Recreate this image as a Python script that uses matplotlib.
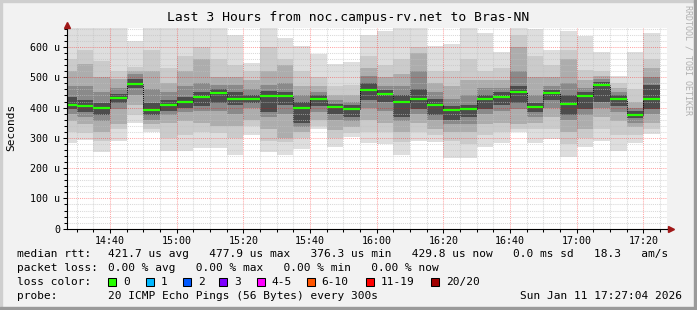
import numpy as np
import pandas as pd
import matplotlib
matplotlib.use("Agg")
import matplotlib.pyplot as plt
import matplotlib.dates as mdates
from matplotlib.patches import Rectangle
from matplotlib.lines import Line2D

# ---- data (values in microseconds) ----
bar_start = pd.date_range("2026-01-11 14:25", periods=36, freq="5min")

median = [410, 406, 397, 433, 478, 391, 410, 420, 434, 447, 427, 427, 437, 437, 397, 427, 401, 396,
          457, 446, 420, 429, 410, 392, 394, 427, 434, 450, 401, 447, 413, 437, 476, 427, 376, 430]

ping_max = [680, 680, 680, 680, 621, 680, 680, 680, 680, 680, 641, 546, 680, 630, 603, 577, 545, 551,
            641, 652, 680, 680, 605, 611, 680, 647, 584, 680, 658, 589, 654, 636, 584, 505, 582, 645]
ping_min = [284, 294, 253, 291, 349, 319, 256, 256, 267, 267, 242, 311, 253, 242, 264, 330, 270, 303,
            284, 280, 244, 291, 286, 234, 234, 270, 283, 319, 283, 297, 236, 270, 291, 258, 283, 314]

# smoke bands, outer -> inner
hi_q1 = [560, 590, 555, 520, 535, 590, 530, 570, 600, 560, 540, 520, 600, 560, 520, 500, 470, 475,
         570, 540, 560, 600, 520, 520, 560, 520, 530, 640, 570, 540, 590, 525, 520, 480, 460, 560]
hi_q2 = [520, 545, 500, 495, 522, 520, 480, 520, 560, 500, 500, 490, 520, 540, 470, 470, 440, 440,
         530, 500, 510, 580, 480, 470, 490, 490, 490, 600, 500, 500, 560, 490, 505, 465, 420, 530]
hi_q3 = [470, 470, 450, 465, 510, 460, 450, 470, 480, 475, 475, 460, 475, 480, 440, 450, 425, 420,
         505, 470, 470, 520, 450, 430, 440, 465, 465, 520, 440, 470, 480, 465, 495, 450, 400, 500]
hi_q4 = [435, 425, 415, 445, 495, 415, 425, 435, 450, 460, 450, 440, 455, 450, 420, 440, 412, 410,
         480, 458, 440, 460, 430, 405, 410, 440, 450, 470, 415, 458, 440, 450, 485, 440, 390, 475]
lo_q4 = [395, 385, 375, 415, 465, 375, 390, 400, 405, 415, 410, 415, 385, 410, 350, 405, 380, 370,
         425, 420, 370, 395, 375, 360, 370, 395, 410, 415, 385, 425, 375, 395, 420, 405, 365, 395]
lo_q3 = [380, 370, 355, 395, 440, 360, 375, 385, 390, 390, 380, 400, 370, 380, 335, 385, 360, 355,
         400, 390, 355, 380, 360, 345, 345, 380, 390, 395, 370, 400, 360, 375, 400, 385, 350, 380]
lo_q2 = [355, 345, 320, 345, 410, 345, 350, 355, 350, 340, 340, 360, 330, 300, 320, 360, 325, 335,
         360, 350, 320, 350, 330, 320, 320, 345, 350, 345, 350, 370, 320, 330, 370, 355, 335, 350]
lo_q1 = [320, 315, 290, 330, 375, 330, 300, 310, 320, 315, 300, 340, 290, 285, 300, 340, 300, 315,
         320, 320, 285, 320, 310, 290, 280, 310, 320, 330, 330, 330, 280, 300, 330, 310, 310, 330]

ytick_vals = [0, 100, 200, 300, 400, 500, 600]
ytick_labels = ["0", "100 u", "200 u", "300 u", "400 u", "500 u", "600 u"]

loss_labels = ["0", "1", "2", "3", "4-5", "6-10", "11-19", "20/20"]
loss_colors = ["#26ff00", "#00b8ff", "#0059ff", "#7e00ff", "#ff00ff", "#ff5500", "#ff0000", "#a10000"]

# ---- layout helpers (pixel coords, origin top-left) ----
W, H = 697, 310
MONO = "DejaVu Sans Mono"


def fx(px):
    return px / W


def fy(py):
    return 1 - py / H


fig = plt.figure(figsize=(W / 100, H / 100), dpi=100)
fig.patch.set_facecolor("#f2f2f2")

ax = fig.add_axes([fx(67), fy(228.7), 600 / W, (228.7 - 27.5) / H])
ax.set_facecolor("white")

x = mdates.date2num(bar_start.to_pydatetime())
width = 5 / 1440

# smoke layers, outer first so inner ones draw on top
layers = [
    (ping_min, ping_max, "#dedede"),
    (lo_q1, hi_q1, "#cbcbcb"),
    (lo_q2, hi_q2, "#adadad"),
    (lo_q3, hi_q3, "#8a8a8a"),
    (lo_q4, hi_q4, "#4c4c4c"),
]
for lo, hi, col in layers:
    lo = np.array(lo)
    hi = np.array(hi)
    ax.bar(x, hi - lo, bottom=lo, width=width, align="edge", color=col, linewidth=0, zorder=1)

# median: dotted black risers between bars + green segments
med = np.array(median)
ax.vlines(x[1:], np.minimum(med[:-1], med[1:]), np.maximum(med[:-1], med[1:]),
          color="black", lw=0.7, ls=(0, (1, 1)), zorder=3)
ax.hlines(med, x, x + width, color=loss_colors[0], lw=1.6, zorder=4)

# axes ranges
t0 = mdates.date2num(pd.Timestamp("2026-01-11 14:27:04"))
t1 = mdates.date2num(pd.Timestamp("2026-01-11 17:27:04"))
ax.set_xlim(t0, t1)
ax.set_ylim(0, 664.5)

ax.xaxis.set_major_locator(mdates.MinuteLocator(byminute=[0, 20, 40]))
ax.xaxis.set_minor_locator(mdates.MinuteLocator(byminute=range(0, 60, 5)))
ax.xaxis.set_major_formatter(mdates.DateFormatter("%H:%M"))
ax.set_yticks(ytick_vals)
ax.set_yticklabels(ytick_labels)
ax.set_yticks(np.arange(0, 661, 20), minor=True)

# rrdtool-style translucent grid on top of the smoke
ax.set_axisbelow(False)
ax.grid(which="minor", color="#c0c0c0", alpha=0.6, lw=0.75, ls=(0, (1, 1)))
ax.grid(which="major", color="#ff0000", alpha=0.35, lw=0.75, ls=(0, (1, 1)))

for s in ["top", "right"]:
    ax.spines[s].set_visible(False)
for s in ["left", "bottom"]:
    ax.spines[s].set_color("black")
    ax.spines[s].set_linewidth(0.8)
    ax.spines[s].set_zorder(5)

ax.tick_params(which="major", length=3, width=0.75, pad=2, labelsize=7.2)
ax.tick_params(which="minor", length=2, width=0.75)
for lab in ax.get_xticklabels() + ax.get_yticklabels():
    lab.set_family(MONO)

# axis extension and arrows
fig.add_artist(Line2D([fx(667), fx(670)], [fy(228.7), fy(228.7)], color="black", lw=0.8))
fig.add_artist(Line2D([fx(67)], [fy(24.5)], marker="^", ms=4.5, color="#a01818", lw=0))
fig.add_artist(Line2D([fx(671)], [fy(228.7)], marker=">", ms=4.5, color="#a01818", lw=0))

# titles
fig.text(fx(348.5), fy(17.5), "Last 3 Hours from noc.campus-rv.net to Bras-NN",
         ha="center", va="center", fontsize=9.4, family=MONO)
fig.text(fx(11), fy(127), "Seconds", rotation=90, ha="center", va="center",
         fontsize=8, family=MONO)
fig.text(fx(688), fy(60), "RRDTOOL / TOBI OETIKER", rotation=270, ha="center", va="center",
         fontsize=6, family=MONO, color="#b0b0b0")

# legend rows
row_y = [254.3, 268.3, 282.3, 295.7]
fs = 8
fig.text(fx(16.7), fy(row_y[0]), "median rtt:", va="center", fontsize=fs, family=MONO)
fig.text(fx(107.7), fy(row_y[0]),
         "421.7 us avg   477.9 us max   376.3 us min   429.8 us now   0.0 ms sd   18.3   am/s",
         va="center", fontsize=fs, family=MONO)
fig.text(fx(16.7), fy(row_y[1]), "packet loss:", va="center", fontsize=fs, family=MONO)
fig.text(fx(107.7), fy(row_y[1]), "0.00 % avg   0.00 % max   0.00 % min   0.00 % now",
         va="center", fontsize=fs, family=MONO)
fig.text(fx(16.7), fy(row_y[2]), "loss color:", va="center", fontsize=fs, family=MONO)

box_x = [108.3, 145.7, 182.7, 219.3, 256.7, 306.7, 365.7, 430.7]
for bx, lab, col in zip(box_x, loss_labels, loss_colors):
    fig.add_artist(Rectangle((fx(bx), fy(row_y[2] + 4)), 8 / W, 8 / H, facecolor=col,
                             edgecolor="black", lw=0.75, transform=fig.transFigure))
    fig.text(fx(bx + 15), fy(row_y[2]), lab, va="center", fontsize=fs, family=MONO)

fig.text(fx(16.7), fy(row_y[3]), "probe:", va="center", fontsize=fs, family=MONO)
fig.text(fx(107.7), fy(row_y[3]), "20 ICMP Echo Pings (56 Bytes) every 300s",
         va="center", fontsize=fs, family=MONO)
fig.text(fx(681.7), fy(row_y[3]), "Sun Jan 11 17:27:04 2026", ha="right", va="center",
         fontsize=fs, family=MONO)

# 3d-ish frame around the canvas
fig.add_artist(Rectangle((0, fy(2)), 1, 2 / H, color="#cfcfcf", transform=fig.transFigure))
fig.add_artist(Rectangle((0, 0), 2 / W, 1, color="#cfcfcf", transform=fig.transFigure))
fig.add_artist(Rectangle((fx(694), 0), 3 / W, 1, color="#9a9a9a", transform=fig.transFigure))
fig.add_artist(Rectangle((0, 0), 1, 3 / H, color="#9a9a9a", transform=fig.transFigure))

fig.savefig("out.png", dpi=100, facecolor=fig.get_facecolor())
